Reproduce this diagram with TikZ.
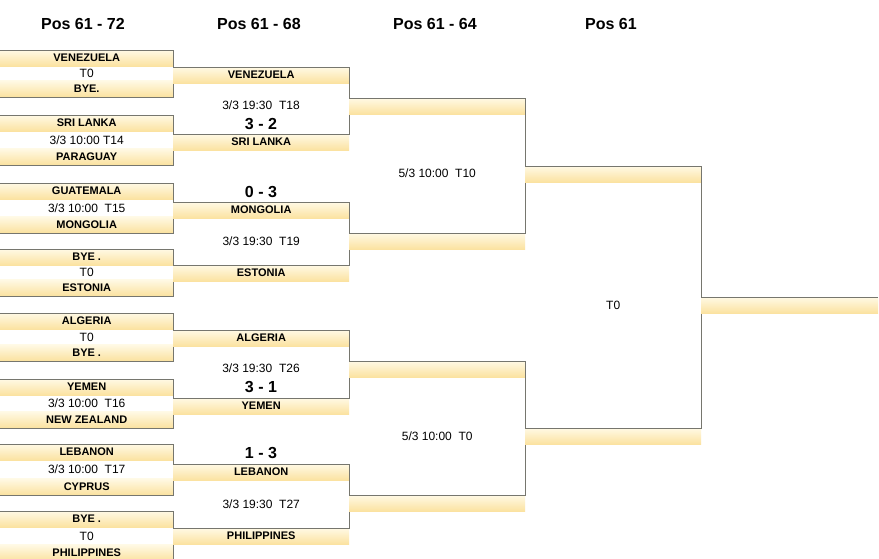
\documentclass[tikz,border=0pt]{standalone}
\usepackage{fontspec}
\setmainfont{Liberation Sans}
\usepackage{xcolor}
\usetikzlibrary{positioning}
\definecolor{linegray}{RGB}{118,118,110}
\definecolor{barlight}{RGB}{255,249,228}
\definecolor{baryellow}{RGB}{251,226,160}

\begin{document}
\begin{tikzpicture}[x=1pt, y=-1pt,
  bar/.style={inner sep=0pt, minimum height=16pt, top color=barlight,
              bottom color=baryellow, font=\fontsize{11}{13}\selectfont\bfseries},
  first/.style={bar, minimum width=173pt},
  later/.style={bar, minimum width=176pt},
  edge/.style={draw=linegray, line width=1pt},
  info/.style={font=\fontsize{12}{14}\selectfont},
  score/.style={font=\fontsize{16}{18}\selectfont\bfseries},
  head/.style={font=\fontsize{16}{18}\selectfont\bfseries}
]
\useasboundingbox[fill=white] (0,0) rectangle (879,558);

% column heads
\node[head] (pos1) at (83,24) {Pos 61 - 72};
\node[head] (pos2) at (259,24) {Pos 61 - 68};
\node[head] (pos3) at (435,24) {Pos 61 - 64};
\node[head] (pos4) at (611,24) {Pos 61};

% first round
\node[first, anchor=north west] (a1) at (0,50) {VENEZUELA};
\node[first, anchor=south west] (b1) at (0,97) {BYE.};
\path (a1) -- node[info] (t1) {T0} (b1);
\node[first, anchor=north west] (a2) at (0,115) {SRI LANKA};
\node[first, anchor=south west] (b2) at (0,165) {PARAGUAY};
\path (a2) -- node[info] (t2) {3/3 10:00 T14} (b2);
\node[first, anchor=north west] (a3) at (0,183) {GUATEMALA};
\node[first, anchor=south west] (b3) at (0,233) {MONGOLIA};
\path (a3) -- node[info] (t3) {3/3 10:00\ \ T15} (b3);
\node[first, anchor=north west] (a4) at (0,249) {BYE .};
\node[first, anchor=south west] (b4) at (0,296) {ESTONIA};
\path (a4) -- node[info] (t4) {T0} (b4);
\node[first, anchor=north west] (a5) at (0,313) {ALGERIA};
\node[first, anchor=south west] (b5) at (0,361) {BYE .};
\path (a5) -- node[info] (t5) {T0} (b5);
\node[first, anchor=north west] (a6) at (0,379) {YEMEN};
\node[first, anchor=south west] (b6) at (0,428) {NEW ZEALAND};
\path (a6) -- node[info] (t6) {3/3 10:00\ \ T16} (b6);
\node[first, anchor=north west] (a7) at (0,444) {LEBANON};
\node[first, anchor=south west] (b7) at (0,495) {CYPRUS};
\path (a7) -- node[info] (t7) {3/3 10:00\ \ T17} (b7);
\node[first, anchor=north west] (a8) at (0,511) {BYE .};
\node[first, anchor=south west] (b8) at (0,561) {PHILIPPINES};
\path (a8) -- node[info] (t8) {T0} (b8);
\draw[edge] (a1.north west) -- (a1.north east) -- (b1.south east) -- (b1.south west);
\draw[edge] (a2.north west) -- (a2.north east) -- (b2.south east) -- (b2.south west);
\draw[edge] (a3.north west) -- (a3.north east) -- (b3.south east) -- (b3.south west);
\draw[edge] (a4.north west) -- (a4.north east) -- (b4.south east) -- (b4.south west);
\draw[edge] (a5.north west) -- (a5.north east) -- (b5.south east) -- (b5.south west);
\draw[edge] (a6.north west) -- (a6.north east) -- (b6.south east) -- (b6.south west);
\draw[edge] (a7.north west) -- (a7.north east) -- (b7.south east) -- (b7.south west);
\draw[edge] (a8.north west) -- (a8.north east) -- (b8.south east) -- (b8.south west);

% second round
\node[later, anchor=north west] (c1) at (173,67) {VENEZUELA};
\node[later, anchor=north west] (d1) at (173,134) {SRI LANKA};
\node[info] (u1) at (261,105) {3/3 19:30\ \ T18};
\node[score] (s1) at (261,124) {3 - 2};
\node[later, anchor=north west] (c2) at (173,202) {MONGOLIA};
\node[later, anchor=north west] (d2) at (173,265) {ESTONIA};
\path (c2) -- node[info] (u2) {3/3 19:30\ \ T19} (d2);
\node[score] (s2) at (261,192) {0 - 3};
\node[later, anchor=north west] (c3) at (173,330) {ALGERIA};
\node[later, anchor=north west] (d3) at (173,398) {YEMEN};
\node[info] (u3) at (261,368) {3/3 19:30\ \ T26};
\node[score] (s3) at (261,387) {3 - 1};
\node[later, anchor=north west] (c4) at (173,464) {LEBANON};
\node[later, anchor=north west] (d4) at (173,528) {PHILIPPINES};
\path (c4) -- node[info] (u4) {3/3 19:30\ \ T27} (d4);
\node[score] (s4) at (261,453) {1 - 3};
\draw[edge] (c1.north west) -- (c1.north east) -- (d1.north east) -- (d1.north west);
\draw[edge] (c2.north west) -- (c2.north east) -- (d2.north east) -- (d2.north west);
\draw[edge] (c3.north west) -- (c3.north east) -- (d3.north east) -- (d3.north west);
\draw[edge] (c4.north west) -- (c4.north east) -- (d4.north east) -- (d4.north west);

% third round
\node[later, anchor=north west] (e1) at (349,98) {};
\node[later, anchor=north west] (f1) at (349,233) {};
\path (e1) -- node[info] (v1) {5/3 10:00\ \ T10} (f1);
\node[later, anchor=north west] (e2) at (349,361) {};
\node[later, anchor=north west] (f2) at (349,495) {};
\path (e2) -- node[info] (v2) {5/3 10:00\ \ T0} (f2);
\draw[edge] (e1.north west) -- (e1.north east) -- (f1.north east) -- (f1.north west);
\draw[edge] (e2.north west) -- (e2.north east) -- (f2.north east) -- (f2.north west);

% fourth round and winner
\node[later, anchor=north west] (g1) at (525,166) {};
\node[later, anchor=north west] (g2) at (525,428) {};
\path (g1) -- node[info] (w1) {T0} (g2);
\draw[edge] (g1.north west) -- (g1.north east) -- (g2.north east) -- (g2.north west);
\node[bar, minimum width=177pt, anchor=north west] (k1) at (701,297) {};
\draw[edge] (k1.north west) -- (k1.north east);
\end{tikzpicture}
\end{document}
